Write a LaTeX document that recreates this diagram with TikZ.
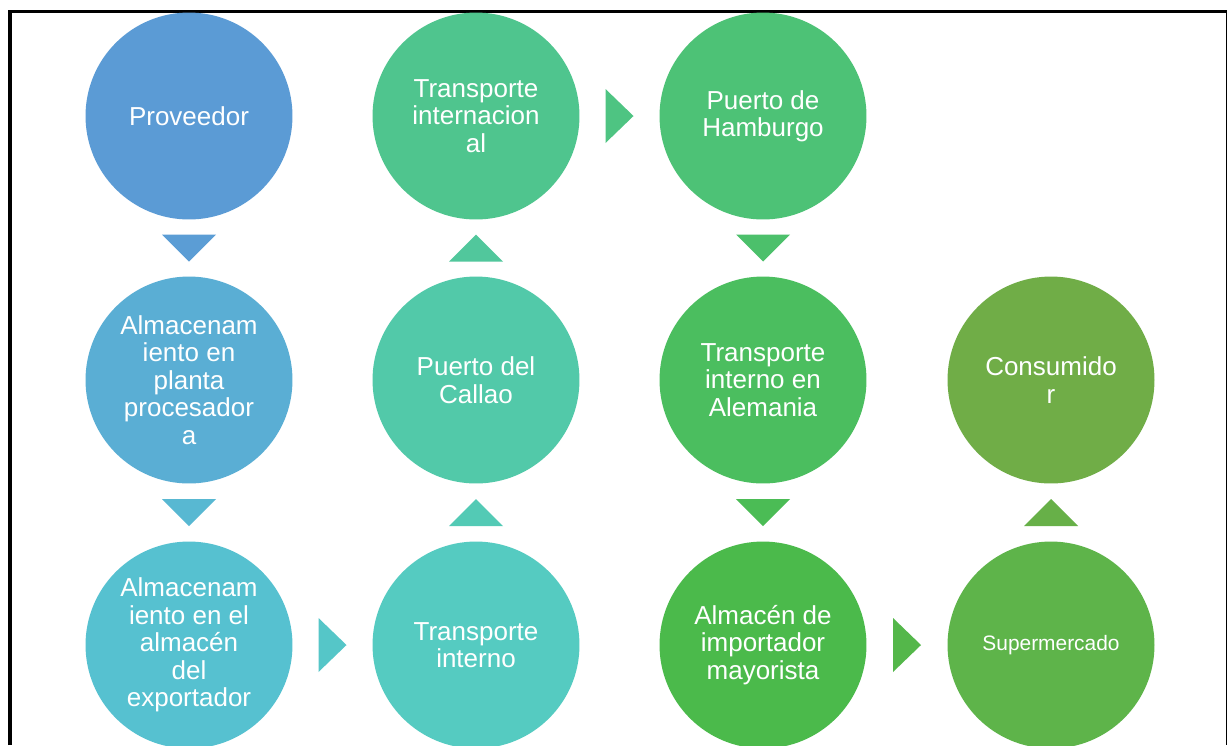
\documentclass[tikz,border=0pt]{standalone}
\usepackage{fontspec}
\setmainfont{Liberation Sans}
\usetikzlibrary{calc}
\definecolor{cProv}{HTML}{5B9BD5}
\definecolor{cPlanta}{HTML}{5AAED4}
\definecolor{cExp}{HTML}{56C1D0}
\definecolor{cTint}{HTML}{55CBC1}
\definecolor{cCallao}{HTML}{52C9A9}
\definecolor{cTinter}{HTML}{4FC58E}
\definecolor{cHamb}{HTML}{4DC276}
\definecolor{cTale}{HTML}{4BBE5F}
\definecolor{cImp}{HTML}{4BBA4B}
\definecolor{cSuper}{HTML}{5EB44A}
\definecolor{cCons}{HTML}{70AD47}
\tikzset{
  paso/.style={circle, minimum size=4.14cm, inner sep=0pt, text=white,
    align=center, font=\fontsize{14.8}{15.6}\selectfont},
}
\begin{document}
\begin{tikzpicture}[x=0.02cm,y=-0.02cm]
\clip (0,0) rectangle (1229,745);
\fill[white] (0,0) rectangle (1229,745);
% marco
\draw[line width=2pt] (10,745) -- (10,11);
\draw[line width=1.7pt] (8,11) -- (1227,11);
\draw[line width=0.85pt] (1226.5,11) -- (1226.5,745);
% pasos
\node[paso, fill=cProv] (prov) at (189,116) {Proveedor};
\node[paso, fill=cPlanta] (planta) at (189,380) {Almacenam\\iento en\\planta\\procesador\\a};
\node[paso, fill=cExp] (export) at (189,645) {Almacenam\\iento en el\\almacén\\del\\exportador};
\node[paso, fill=cTint] (tint) at (476,645) {Transporte\\interno};
\node[paso, fill=cCallao] (callao) at (476,380) {Puerto del\\Callao};
\node[paso, fill=cTinter] (tinter) at (476,116) {Transporte\\internacion\\al};
\node[paso, fill=cHamb] (hamb) at (763,116) {Puerto de\\Hamburgo};
\node[paso, fill=cTale] (tale) at (763,380) {Transporte\\interno en\\Alemania};
\node[paso, fill=cImp] (imp) at (763,645) {Almacén de\\importador\\mayorista};
\node[paso, fill=cSuper, font=\fontsize{11.9}{13}\selectfont] (super) at (1051,645) {Supermercado};
\node[paso, fill=cCons] (cons) at (1051,380) {Consumido\\r};
% flechas
\fill[cProv!90!cPlanta] ($(prov)!.5!(planta)$) +(-27,-13.5) -- +(27,-13.5) -- +(0,13.5) -- cycle;
\fill[cPlanta!50!cExp] ($(planta)!.5!(export)$) +(-27,-13.5) -- +(27,-13.5) -- +(0,13.5) -- cycle;
\fill[cExp!50!cTint] ($(export)!.5!(tint)$) +(-14,-27) -- +(-14,27) -- +(14,0) -- cycle;
\fill[cTint!50!cCallao] ($(tint)!.5!(callao)$) +(-27,13.5) -- +(27,13.5) -- +(0,-13.5) -- cycle;
\fill[cCallao!50!cTinter] ($(callao)!.5!(tinter)$) +(-27,13.5) -- +(27,13.5) -- +(0,-13.5) -- cycle;
\fill[cTinter!50!cHamb] ($(tinter)!.5!(hamb)$) +(-14,-27) -- +(-14,27) -- +(14,0) -- cycle;
\fill[cHamb!50!cTale] ($(hamb)!.5!(tale)$) +(-27,-13.5) -- +(27,-13.5) -- +(0,13.5) -- cycle;
\fill[cTale!50!cImp] ($(tale)!.5!(imp)$) +(-27,-13.5) -- +(27,-13.5) -- +(0,13.5) -- cycle;
\fill[cImp!50!cSuper] ($(imp)!.5!(super)$) +(-14,-27) -- +(-14,27) -- +(14,0) -- cycle;
\fill[cSuper!50!cCons] ($(super)!.5!(cons)$) +(-27,13.5) -- +(27,13.5) -- +(0,-13.5) -- cycle;
\end{tikzpicture}
\end{document}
